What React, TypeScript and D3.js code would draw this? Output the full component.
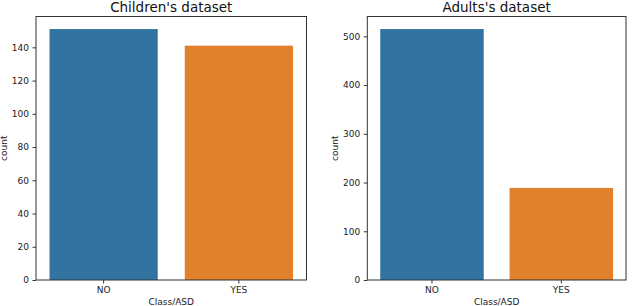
import { useRef, useEffect } from "react";
import * as d3 from "d3";

const categories = ["NO", "YES"];
const childrenCounts = [151, 141];
const adultsCounts = [515, 189];
const childrenTicks = [0, 20, 40, 60, 80, 100, 120, 140];
const adultsTicks = [0, 100, 200, 300, 400, 500];
const barColors = ["#3274a1", "#e1812c"];

const panels = [
  { title: "Children's dataset", values: childrenCounts, ticks: childrenTicks, left: 36, right: 306.5 },
  { title: "Adults's dataset", values: adultsCounts, ticks: adultsTicks, left: 367.3, right: 626 },
];

export default function App() {
  const ref = useRef<SVGSVGElement>(null);
  useEffect(() => {
    const svg = d3.select(ref.current);
    svg.selectAll("*").remove();
    const top = 16.5;
    const bottom = 280;
    const font = "DejaVu Sans, sans-serif";

    panels.forEach((p) => {
      const x = d3
        .scaleBand()
        .domain(categories)
        .range([p.left, p.right])
        .paddingInner(0.2)
        .paddingOuter(0.1);
      const y = d3
        .scaleLinear()
        .domain([0, d3.max(p.values)! * 1.05])
        .range([bottom, top]);

      const g = svg.append("g");

      g.selectAll("rect.bar")
        .data(p.values)
        .join("rect")
        .attr("class", "bar")
        .attr("x", (_, i) => x(categories[i])!)
        .attr("y", (d) => y(d))
        .attr("width", x.bandwidth())
        .attr("height", (d) => bottom - y(d))
        .attr("fill", (_, i) => barColors[i]);

      // y axis
      const yAxis = g
        .append("g")
        .attr("transform", `translate(${p.left},0)`)
        .call(d3.axisLeft(y).tickValues(p.ticks).tickSize(3.5).tickPadding(3.5));
      yAxis.select(".domain").remove();
      yAxis.selectAll("line").attr("stroke", "#333");
      yAxis.selectAll("text").attr("font-family", font).attr("font-size", 9).attr("fill", "#222");

      // x axis
      const xAxis = g
        .append("g")
        .attr("transform", `translate(0,${bottom})`)
        .call(d3.axisBottom(x).tickSize(3.5).tickPadding(3.5));
      xAxis.select(".domain").remove();
      xAxis.selectAll("line").attr("stroke", "#333");
      xAxis.selectAll("text").attr("font-family", font).attr("font-size", 9).attr("fill", "#222");

      // frame
      g.append("rect")
        .attr("x", p.left)
        .attr("y", top)
        .attr("width", p.right - p.left)
        .attr("height", bottom - top)
        .attr("fill", "none")
        .attr("stroke", "#333")
        .attr("stroke-width", 1);

      g.append("text")
        .attr("x", (p.left + p.right) / 2)
        .attr("y", 12)
        .attr("text-anchor", "middle")
        .attr("font-family", font)
        .attr("font-size", 13.5)
        .attr("fill", "#111")
        .text(p.title);

      g.append("text")
        .attr("x", (p.left + p.right) / 2)
        .attr("y", 305)
        .attr("text-anchor", "middle")
        .attr("font-family", font)
        .attr("font-size", 9)
        .attr("fill", "#222")
        .text("Class/ASD");

      g.append("text")
        .attr("transform", `translate(${p.left - 29},${(top + bottom) / 2}) rotate(-90)`)
        .attr("text-anchor", "middle")
        .attr("font-family", font)
        .attr("font-size", 9)
        .attr("fill", "#222")
        .text("count");
    });
  }, []);
  return (
    <svg
      ref={ref}
      width={640}
      height={306}
      style={{ position: "absolute", left: 0, top: 0, background: "#fff" }}
    />
  );
}
